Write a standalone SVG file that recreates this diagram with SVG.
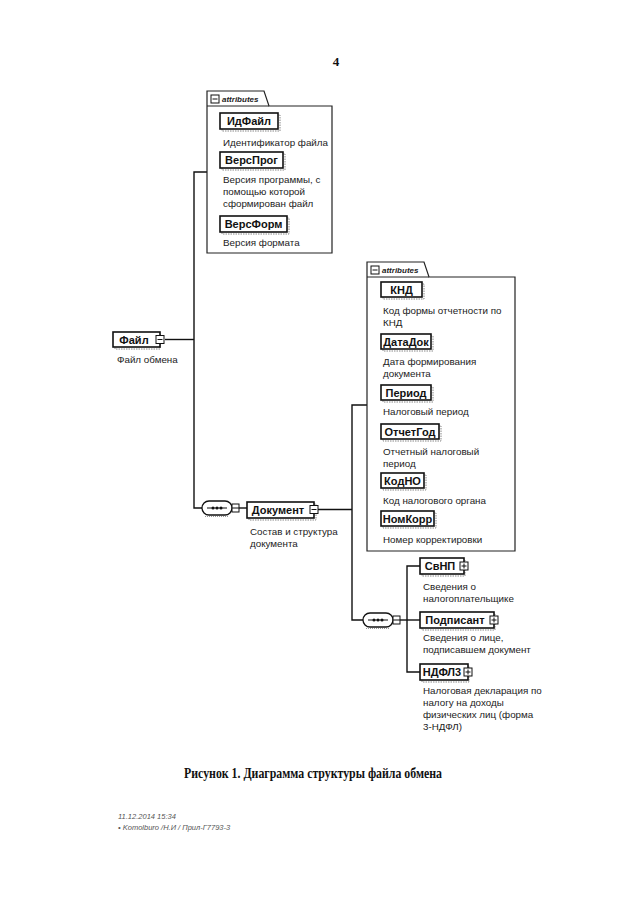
<svg xmlns="http://www.w3.org/2000/svg" width="640" height="905" viewBox="0 0 640 905">
<style>
.bg{fill:#ffffff}
.ln{fill:none;stroke:#111;stroke-width:1.4}
.nb{fill:#fff;stroke:#111;stroke-width:1.6}
.sh{fill:none;stroke:#888;stroke-width:1;stroke-dasharray:1.5 1}
.nl{font-family:"Liberation Sans",Arial,sans-serif;font-size:11px;font-weight:bold;fill:#111;text-anchor:middle}
.ds{font-family:"Liberation Sans",Arial,sans-serif;font-size:9.8px;fill:#222}
.box{fill:#fff;stroke:#222;stroke-width:1.2}
.at{font-family:"Liberation Sans",Arial,sans-serif;font-size:8px;font-style:italic;font-weight:bold;fill:#222}
.ic{fill:#fff;stroke:#111;stroke-width:1}
.cap{font-family:"Liberation Serif","Times New Roman",serif;font-size:15px;font-weight:bold;fill:#111}
.pg{font-family:"Liberation Serif","Times New Roman",serif;font-size:13px;font-weight:bold;fill:#111}
.ft{font-family:"Liberation Sans",Arial,sans-serif;font-size:7.5px;font-style:italic;fill:#555}
</style>
<defs>
<g id="minus"><rect class="ic" x="-4" y="-4" width="8" height="8"/><line x1="-2.5" y1="0" x2="2.5" y2="0" stroke="#111" stroke-width="1"/></g>
<g id="plus"><rect class="ic" x="-4" y="-4" width="8" height="8"/><line x1="-2.5" y1="0" x2="2.5" y2="0" stroke="#111" stroke-width="1"/><line x1="0" y1="-2.5" x2="0" y2="2.5" stroke="#111" stroke-width="1"/></g>
<g id="seq"><rect x="0" y="0" width="30" height="14" rx="7" ry="7" fill="#fff" stroke="#111" stroke-width="1.3"/><path d="M3 15.5 H27" stroke="#999" stroke-width="1" stroke-dasharray="1 1"/><line x1="5" y1="7" x2="25" y2="7" stroke="#111" stroke-width="1"/><circle cx="11" cy="7" r="1.5" fill="#111"/><circle cx="15" cy="7" r="1.5" fill="#111"/><circle cx="19" cy="7" r="1.5" fill="#111"/><rect class="ic" x="30" y="3" width="7" height="8"/><line x1="30" y1="7" x2="37" y2="7" stroke="#111" stroke-width="1"/></g>
</defs>
<rect class="bg" x="0" y="0" width="640" height="905"/>
<text class="pg" x="336" y="66" text-anchor="middle">4</text>

<g id="connectors">
<path class="ln" d="M207 172 H194 V508 H202"/>
<path class="ln" d="M165 339.5 H194"/>
<path class="ln" d="M239 508 H247"/>
<path class="ln" d="M318 509.5 H352"/>
<path class="ln" d="M367 405 H352 V620 H363"/>
<path class="ln" d="M400 620 H420"/>
<path class="ln" d="M420 566 H407 V672 H420"/>
</g>

<g id="attributes-fail">
<path class="box" d="M207 253 V91 H264 L269 106 H332 V253 Z"/>
<line x1="207" y1="106" x2="269" y2="106" stroke="#222" stroke-width="1"/>
<use href="#minus" x="215" y="99"/>
<text class="at" x="222" y="102">attributes</text>
</g>
<g id="n-idfail"><rect class="sh" x="222" y="115" width="58" height="16"/><rect class="nb" x="220" y="113" width="58" height="16"/><text class="nl" x="249" y="125">ИдФайл</text><text class="ds" x="223" y="146">Идентификатор файла</text></g>
<g id="n-versprog"><rect class="sh" x="222" y="154" width="63" height="16"/><rect class="nb" x="220" y="152" width="63" height="16"/><text class="nl" x="251.5" y="164">ВерсПрог</text><text class="ds" x="223" y="183">Версия программы, с</text><text class="ds" x="223" y="195">помощью которой</text><text class="ds" x="223" y="207">сформирован файл</text></g>
<g id="n-versform"><rect class="sh" x="222" y="218" width="67" height="16"/><rect class="nb" x="220" y="216" width="67" height="16"/><text class="nl" x="253.5" y="228">ВерсФорм</text><text class="ds" x="223" y="246">Версия формата</text></g>

<g id="n-fail"><rect class="sh" x="115" y="334" width="45" height="15"/><rect class="nb" x="113" y="332" width="47" height="15"/><text class="nl" x="134" y="343.5">Файл</text><use href="#minus" x="160" y="339.5"/><text class="ds" x="117" y="363">Файл обмена</text></g>

<g id="seq-fail"><use href="#seq" x="202" y="501"/></g>

<g id="n-dokument"><rect class="sh" x="249" y="504" width="67" height="16"/><rect class="nb" x="247" y="502" width="67" height="16"/><text class="nl" x="278" y="514">Документ</text><use href="#minus" x="314" y="509.5"/><text class="ds" x="250" y="535">Состав и структура</text><text class="ds" x="250" y="547">документа</text></g>

<g id="attributes-dok">
<path class="box" d="M367 551 V262 H424 L429 277 H515 V551 Z"/>
<line x1="367" y1="277" x2="429" y2="277" stroke="#222" stroke-width="1"/>
<use href="#minus" x="375" y="270"/>
<text class="at" x="382" y="273">attributes</text>
</g>
<g id="n-knd"><rect class="sh" x="383" y="284" width="41" height="15"/><rect class="nb" x="381" y="282" width="41" height="15"/><text class="nl" x="401.5" y="293.5">КНД</text><text class="ds" x="383" y="314">Код формы отчетности по</text><text class="ds" x="383" y="326">КНД</text></g>
<g id="n-datadok"><rect class="sh" x="383" y="336" width="50" height="15"/><rect class="nb" x="381" y="334" width="50" height="15"/><text class="nl" x="406" y="345.5">ДатаДок</text><text class="ds" x="383" y="365">Дата формирования</text><text class="ds" x="383" y="377">документа</text></g>
<g id="n-period"><rect class="sh" x="383" y="387" width="50" height="15"/><rect class="nb" x="381" y="385" width="50" height="15"/><text class="nl" x="406" y="396.5">Период</text><text class="ds" x="383" y="415">Налоговый период</text></g>
<g id="n-otchetgod"><rect class="sh" x="383" y="426" width="58" height="15"/><rect class="nb" x="381" y="424" width="58" height="15"/><text class="nl" x="410" y="435.5">ОтчетГод</text><text class="ds" x="383" y="455">Отчетный налоговый</text><text class="ds" x="383" y="467">период</text></g>
<g id="n-kodno"><rect class="sh" x="383" y="475" width="43" height="15"/><rect class="nb" x="381" y="473" width="43" height="15"/><text class="nl" x="402.5" y="484.5">КодНО</text><text class="ds" x="383" y="504">Код налогового органа</text></g>
<g id="n-nomkorr"><rect class="sh" x="383" y="513" width="53" height="15"/><rect class="nb" x="381" y="511" width="53" height="15"/><text class="nl" x="407.5" y="522.5">НомКорр</text><text class="ds" x="383" y="543">Номер корректировки</text></g>

<g id="seq-dok"><use href="#seq" x="363" y="613"/></g>

<g id="n-svnp"><rect class="sh" x="422" y="560" width="43" height="16"/><rect class="nb" x="420" y="558" width="44" height="16"/><text class="nl" x="440" y="570">СвНП</text><use href="#plus" x="464" y="566"/><text class="ds" x="423" y="590">Сведения о</text><text class="ds" x="423" y="602">налогоплательщике</text></g>
<g id="n-podpisant"><rect class="sh" x="422" y="614" width="73" height="16"/><rect class="nb" x="420" y="612" width="74" height="16"/><text class="nl" x="455" y="624">Подписант</text><use href="#plus" x="494" y="620"/><text class="ds" x="423" y="641">Сведения о лице,</text><text class="ds" x="423" y="653">подписавшем документ</text></g>
<g id="n-ndfl3"><rect class="sh" x="422" y="666" width="47" height="16"/><rect class="nb" x="420" y="664" width="48" height="16"/><text class="nl" x="442" y="676">НДФЛ3</text><use href="#plus" x="468" y="672"/><text class="ds" x="423" y="694">Налоговая декларация по</text><text class="ds" x="423" y="706">налогу на доходы</text><text class="ds" x="423" y="718">физических лиц (форма</text><text class="ds" x="423" y="730">3-НДФЛ)</text></g>

<text class="cap" x="184" y="778" textLength="258" lengthAdjust="spacingAndGlyphs">Рисунок 1. Диаграмма структуры файла обмена</text>
<text class="ft" x="118" y="819">11.12.2014 15:34</text>
<text class="ft" x="118" y="830">• Komolburo /Н.И / Прил-Г7793-3</text>
</svg>
